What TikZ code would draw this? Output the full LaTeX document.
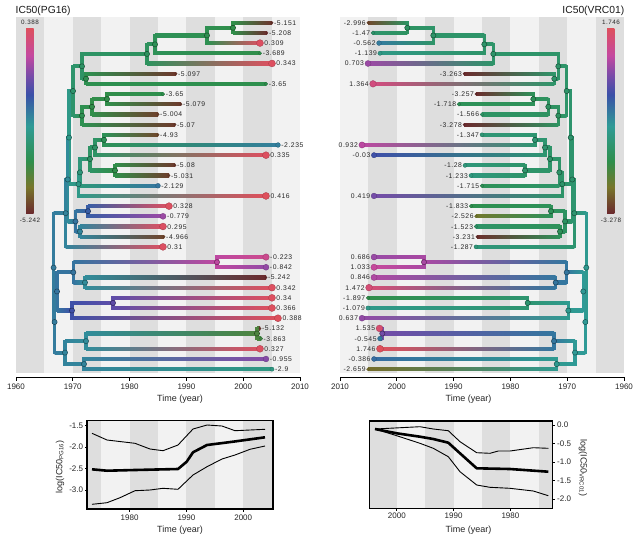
\documentclass[tikz,border=0pt]{standalone}
\usepackage{fontspec}
\setmainfont{Liberation Sans}
\newfontfamily\labfont[LetterSpace=8]{Liberation Sans}
\usetikzlibrary{calc}
\definecolor{cbBr}{HTML}{6B2A2D}
\definecolor{cbO}{HTML}{77762B}
\definecolor{cbG}{HTML}{2E8F4C}
\definecolor{cbT}{HTML}{2F9B96}
\definecolor{cbB}{HTML}{3A50A8}
\definecolor{cbP}{HTML}{7D4BA8}
\definecolor{cbM}{HTML}{C448A0}
\definecolor{cbR}{HTML}{DE505C}
\definecolor{bandD}{HTML}{DEDEDE}
\definecolor{bandL}{HTML}{F2F2F2}
\pgfdeclareverticalshading{cbar}{100bp}{color(0bp)=(cbBr); color(25bp)=(cbBr); color(32bp)=(cbO); color(39bp)=(cbG); color(48.5bp)=(cbT); color(57bp)=(cbB); color(62.5bp)=(cbP); color(67.5bp)=(cbM); color(75bp)=(cbR); color(100bp)=(cbR)}
\pgfdeclarelayer{bg}
\pgfdeclarelayer{branches}
\pgfsetlayers{bg,branches,main}
% colour of a value, f in [0,1]
\newcommand\setcol[2]{%
  \pgfmathsetmacro\cf{max(0,min(1,#2))}%
  \ifdim\cf pt<0.14pt
    \pgfmathsetmacro\cp{100*\cf/0.14}\colorlet{#1}{cbO!\cp!cbBr}%
  \else\ifdim\cf pt<0.28pt
    \pgfmathsetmacro\cp{100*(\cf-0.14)/0.14}\colorlet{#1}{cbG!\cp!cbO}%
  \else\ifdim\cf pt<0.47pt
    \pgfmathsetmacro\cp{100*(\cf-0.28)/0.19}\colorlet{#1}{cbT!\cp!cbG}%
  \else\ifdim\cf pt<0.64pt
    \pgfmathsetmacro\cp{100*(\cf-0.47)/0.17}\colorlet{#1}{cbB!\cp!cbT}%
  \else\ifdim\cf pt<0.75pt
    \pgfmathsetmacro\cp{100*(\cf-0.64)/0.11}\colorlet{#1}{cbP!\cp!cbB}%
  \else\ifdim\cf pt<0.85pt
    \pgfmathsetmacro\cp{100*(\cf-0.75)/0.10}\colorlet{#1}{cbM!\cp!cbP}%
  \else
    \pgfmathsetmacro\cp{100*(\cf-0.85)/0.15}\colorlet{#1}{cbR!\cp!cbM}%
  \fi\fi\fi\fi\fi\fi}
% branches
\newcommand\brL[2]{%
  \shade[left color=#1, right color=#2] ($(#1|-#2)+(0,-1.6)$) rectangle ($(#2)+(0,1.6)$);%
  \draw[#1, line width=3.2pt, line cap=rect] (#1) -- (#1|-#2);}
\newcommand\brR[2]{%
  \shade[left color=#2, right color=#1] ($(#2)+(0,-1.6)$) rectangle ($(#1|-#2)+(0,1.6)$);%
  \draw[#1, line width=3.2pt, line cap=rect] (#1) -- (#1|-#2);}
% tips: name, row, x, value
\newcommand\tipL[4]{%
  \pgfmathsetmacro\ty{22.7+(#2-1)*10.19}%
  \expandafter\xdef\csname ny@#1\endcsname{\ty}%
  \coordinate (#1) at (#3,\ty);%
  \pgfmathsetmacro\ff{(#4+5.242)/5.63}\setcol{#1}{\ff}%
  \pgfmathsetmacro\rr{1.1+2.4*\ff}%
  \fill[#1, draw=#1!75!black, line width=0.3pt] (#1) circle[radius=\rr pt];%
  \node[lab, anchor=base west] (#1-l) at ($(#1)+(\rr+0.8,2.5)$) {#4};}
\newcommand\tipR[4]{%
  \pgfmathsetmacro\ty{22.7+(#2-1)*10.19}%
  \expandafter\xdef\csname ny@#1\endcsname{\ty}%
  \coordinate (#1) at (#3,\ty);%
  \pgfmathsetmacro\ff{(#4+3.278)/5.024}\setcol{#1}{\ff}%
  \pgfmathsetmacro\rr{1.1+2.4*\ff}%
  \fill[#1, draw=#1!75!black, line width=0.3pt] (#1) circle[radius=\rr pt];%
  \node[lab, anchor=base east] (#1-l) at ($(#1)+(-\rr-0.8,2.5)$) {#4};}
% internal nodes: name, x, child A, child B, value
\newcommand\inL[5]{%
  \pgfmathsetmacro\ty{(\csname ny@#3\endcsname+\csname ny@#4\endcsname)/2}%
  \expandafter\xdef\csname ny@#1\endcsname{\ty}%
  \coordinate (#1) at (#2,\ty);%
  \pgfmathsetmacro\ff{(#5+5.242)/5.63}\setcol{#1}{\ff}%
  \begin{pgfonlayer}{branches}\brL{#1}{#3}\brL{#1}{#4}\end{pgfonlayer}%
  \fill[#1, draw=#1!55!black, line width=0.5pt] (#1) circle[radius=2.6pt];}
\newcommand\inR[5]{%
  \pgfmathsetmacro\ty{(\csname ny@#3\endcsname+\csname ny@#4\endcsname)/2}%
  \expandafter\xdef\csname ny@#1\endcsname{\ty}%
  \coordinate (#1) at (#2,\ty);%
  \pgfmathsetmacro\ff{(#5+3.278)/5.024}\setcol{#1}{\ff}%
  \begin{pgfonlayer}{branches}\brR{#1}{#3}\brR{#1}{#4}\end{pgfonlayer}%
  \fill[#1, draw=#1!55!black, line width=0.5pt] (#1) circle[radius=2.6pt];}
\begin{document}
\begin{tikzpicture}[x=1pt,y=-1pt,
  lab/.style={font=\labfont\fontsize{6.8}{8}\selectfont, inner sep=0pt, text=black!85},
  ticklab/.style={font=\fontsize{8}{9}\selectfont, inner sep=0pt, text=black!85},
  axlab/.style={font=\fontsize{9}{10}\selectfont, inner sep=0pt, text=black!85},
  ttl/.style={font=\fontsize{10.3}{12}\selectfont, inner sep=0pt, text=black!90},
  curvethin/.style={line width=0.9pt, line join=round},
  curvethick/.style={line width=2.6pt, line join=round},
  frame/.style={line width=1.3pt}]
\useasboundingbox (0,0) rectangle (642,541);
% ---------- backgrounds
\begin{pgfonlayer}{bg}
\fill[white] (0,0) rectangle (642,541);
\foreach \k in {0,...,4} {
  \fill[bandD] ({16+\k*56.8},17.3) rectangle ({44.4+\k*56.8},373.3);
  \fill[bandL] ({44.4+\k*56.8},17.3) rectangle ({72.8+\k*56.8},373.3);
  \fill[bandL] ({340+\k*56.8},17.3) rectangle ({368.4+\k*56.8},373.3);
  \fill[bandD] ({368.4+\k*56.8},17.3) rectangle ({396.8+\k*56.8},373.3);
}
\begin{scope}
  \clip (87,420.7) rectangle (273,509);
  \fill[bandL] (87,420.7) rectangle (273,509);
  \foreach \k in {0,...,3} \fill[bandD] ({72.8+\k*56.8},420.7) rectangle ({101.2+\k*56.8},509);
\end{scope}
\begin{scope}
  \clip (369.3,421) rectangle (552.3,508.3);
  \fill[bandL] (369.3,421) rectangle (552.3,508.3);
  \foreach \k in {0,...,3} \fill[bandD] ({368.4+\k*56.8},421) rectangle ({396.8+\k*56.8},508.3);
\end{scope}
\end{pgfonlayer}
% ---------- titles and colour bars
\node[ttl, anchor=west] (titleL) at (15.5,10.7) {IC50(PG16)};
\node[ttl, anchor=east] (titleR) at (624.5,10.7) {IC50(VRC01)};
\shade[shading=cbar] (26.2,28) rectangle (33.6,213);
\shade[shading=cbar] (607,28) rectangle (614.4,213);
\node[lab, font=\labfont\fontsize{6.3}{7}\selectfont] (cbLtop) at (30,22.3) {0.388};
\node[lab, font=\labfont\fontsize{6.3}{7}\selectfont] (cbLbot) at (30,220.5) {-5.242};
\node[lab, font=\labfont\fontsize{6.3}{7}\selectfont] (cbRtop) at (611,22.3) {1.746};
\node[lab, font=\labfont\fontsize{6.3}{7}\selectfont] (cbRbot) at (611,220.5) {-3.278};
% ---------- left tree
\tipL{Lt1}{1}{272}{-5.151}
\tipL{Lt2}{2}{267}{-5.208}
\tipL{Lt3}{3}{260}{0.309}
\tipL{Lt4}{4}{260}{-3.689}
\tipL{Lt5}{5}{272}{0.343}
\tipL{Lt6}{6}{176}{-5.097}
\tipL{Lt7}{7}{266}{-3.65}
\tipL{Lt8}{8}{163}{-3.65}
\tipL{Lt9}{9}{181}{-5.079}
\tipL{Lt10}{10}{158}{-5.004}
\tipL{Lt11}{11}{175}{-5.07}
\tipL{Lt12}{12}{158}{-4.93}
\tipL{Lt13}{13}{278}{-2.235}
\tipL{Lt14}{14}{266}{0.335}
\tipL{Lt15}{15}{175}{-5.08}
\tipL{Lt16}{16}{169}{-5.031}
\tipL{Lt17}{17}{158}{-2.129}
\tipL{Lt18}{18}{266}{0.416}
\tipL{Lt19}{19}{169}{0.328}
\tipL{Lt20}{20}{163}{-0.779}
\tipL{Lt21}{21}{163}{0.295}
\tipL{Lt22}{22}{164}{-4.966}
\tipL{Lt23}{23}{163}{0.31}
\tipL{Lt24}{24}{266}{-0.223}
\tipL{Lt25}{25}{266}{-0.842}
\tipL{Lt26}{26}{266}{-5.242}
\tipL{Lt27}{27}{272}{0.342}
\tipL{Lt28}{28}{272}{0.34}
\tipL{Lt29}{29}{272}{0.366}
\tipL{Lt30}{30}{278}{0.388}
\tipL{Lt31}{31}{260}{-5.132}
\tipL{Lt32}{32}{261}{-3.863}
\tipL{Lt33}{33}{260}{0.327}
\tipL{Lt34}{34}{266}{-0.955}
\tipL{Lt35}{35}{272}{-2.9}
\inL{L12}{233}{Lt1}{Lt2}{-3.7}
\inL{L13}{207}{L12}{Lt3}{-3.6}
\inL{L14}{155}{L13}{Lt4}{-3.5}
\inL{L15}{147}{L14}{Lt5}{-3.4}
\inL{L67}{86}{Lt6}{Lt7}{-3.6}
\inL{L17}{82}{L15}{L67}{-3.3}
\inL{L89}{107}{Lt8}{Lt9}{-3.7}
\inL{L810}{92}{L89}{Lt10}{-3.7}
\inL{L811}{82}{L810}{Lt11}{-3.6}
\inL{L111}{73}{L17}{L811}{-3.2}
\inL{L1213}{104}{Lt12}{Lt13}{-3.5}
\inL{L1214}{95}{L1213}{Lt14}{-3.3}
\inL{L1516}{115}{Lt15}{Lt16}{-3.7}
\inL{L1216}{90}{L1214}{L1516}{-3.3}
\inL{L1217}{80}{L1216}{Lt17}{-3.0}
\inL{L1218}{78.5}{L1217}{Lt18}{-2.8}
\inL{L118}{69}{L111}{L1218}{-2.8}
\inL{L1920}{88}{Lt19}{Lt20}{-1.8}
\inL{L2122}{80}{Lt21}{Lt22}{-2.3}
\inL{L1922}{75.5}{L1920}{L2122}{-2.1}
\inL{LB}{67.7}{L118}{L1922}{-2.4}
\inL{LA}{65.7}{LB}{Lt23}{-2.3}
\inL{L2425}{217}{Lt24}{Lt25}{-0.5}
\inL{L2627}{85}{Lt26}{Lt27}{-2.4}
\inL{L2427}{73.3}{L2425}{L2627}{-2.1}
\inL{L2829}{113}{Lt28}{Lt29}{-1.3}
\inL{L2830}{72}{L2829}{Lt30}{-1.6}
\inL{L2430}{57}{L2427}{L2830}{-2.1}
\inL{L3132}{257}{Lt31}{Lt32}{-4.0}
\inL{L3133}{86}{L3132}{Lt33}{-2.4}
\inL{L3435}{84}{Lt34}{Lt35}{-2.3}
\inL{L3135}{65}{L3133}{L3435}{-2.3}
\inL{L2435}{54.6}{L2430}{L3135}{-2.2}
\inL{Lroot}{53.6}{LA}{L2435}{-2.2}
% ---------- right tree
\tipR{Rt1}{1}{368}{-2.996}
\tipR{Rt2}{2}{373}{-1.47}
\tipR{Rt3}{3}{379}{-0.562}
\tipR{Rt4}{4}{380}{-1.139}
\tipR{Rt5}{5}{368}{0.703}
\tipR{Rt6}{6}{464}{-3.263}
\tipR{Rt7}{7}{373}{1.364}
\tipR{Rt8}{8}{476}{-3.257}
\tipR{Rt9}{9}{459}{-1.718}
\tipR{Rt10}{10}{482}{-1.566}
\tipR{Rt11}{11}{464}{-3.278}
\tipR{Rt12}{12}{482}{-1.347}
\tipR{Rt13}{13}{362}{0.932}
\tipR{Rt14}{14}{374}{-0.03}
\tipR{Rt15}{15}{465}{-1.28}
\tipR{Rt16}{16}{471}{-1.233}
\tipR{Rt17}{17}{482}{-1.715}
\tipR{Rt18}{18}{374}{0.419}
\tipR{Rt19}{19}{471}{-1.833}
\tipR{Rt20}{20}{476}{-2.526}
\tipR{Rt21}{21}{476}{-1.523}
\tipR{Rt22}{22}{477}{-3.231}
\tipR{Rt23}{23}{476}{-1.287}
\tipR{Rt24}{24}{374}{0.686}
\tipR{Rt25}{25}{374}{1.033}
\tipR{Rt26}{26}{374}{0.846}
\tipR{Rt27}{27}{369}{1.472}
\tipR{Rt28}{28}{368}{-1.897}
\tipR{Rt29}{29}{368}{-1.079}
\tipR{Rt30}{30}{362}{0.637}
\tipR{Rt31}{31}{379.5}{1.535}
\tipR{Rt32}{32}{380}{-0.545}
\tipR{Rt33}{33}{380}{1.746}
\tipR{Rt34}{34}{374}{-0.386}
\tipR{Rt35}{35}{368}{-2.659}
\inR{R12}{407.3}{Rt1}{Rt2}{-1.6}
\inR{R13}{433.3}{R12}{Rt3}{-1.5}
\inR{R14}{484.3}{R13}{Rt4}{-1.5}
\inR{R15}{493.3}{R14}{Rt5}{-1.5}
\inR{R67}{554.3}{Rt6}{Rt7}{-1.5}
\inR{R17}{558.3}{R15}{R67}{-1.5}
\inR{R89}{533.3}{Rt8}{Rt9}{-1.7}
\inR{R810}{548.3}{R89}{Rt10}{-1.6}
\inR{R811}{558.3}{R810}{Rt11}{-1.6}
\inR{R111}{566.7}{R17}{R811}{-1.5}
\inR{R1213}{535}{Rt12}{Rt13}{-1.4}
\inR{R1214}{545}{R1213}{Rt14}{-1.4}
\inR{R1516}{525}{Rt15}{Rt16}{-1.5}
\inR{R1216}{550}{R1214}{R1516}{-1.5}
\inR{R1217}{559.3}{R1216}{Rt17}{-1.5}
\inR{R1218}{562.3}{R1217}{Rt18}{-1.5}
\inR{R118}{570.7}{R111}{R1218}{-1.45}
\inR{R1920}{551}{Rt19}{Rt20}{-1.7}
\inR{R2122}{560}{Rt21}{Rt22}{-1.7}
\inR{R1922}{565}{R1920}{R2122}{-1.6}
\inR{RB}{572.3}{R118}{R1922}{-1.45}
\inR{RA}{574.3}{RB}{Rt23}{-1.4}
\inR{R2425}{424}{Rt24}{Rt25}{0.8}
\inR{R2627}{555.7}{Rt26}{Rt27}{-0.5}
\inR{R2427}{566.7}{R2425}{R2627}{-0.5}
\inR{R2829}{527.7}{Rt28}{Rt29}{-1.4}
\inR{R2830}{568.3}{R2829}{Rt30}{-1.0}
\inR{R2430}{583.3}{R2427}{R2830}{-0.9}
\inR{R3132}{382.3}{Rt31}{Rt32}{0.4}
\inR{R3133}{554}{R3132}{Rt33}{-0.5}
\inR{R3435}{556.7}{Rt34}{Rt35}{-1.0}
\inR{R3135}{575}{R3133}{R3435}{-0.9}
\inR{R2435}{585.3}{R2430}{R3135}{-0.9}
\inR{Rroot}{586.3}{RA}{R2435}{-1.0}
% ---------- main axes
\draw[line width=0.9pt] (16,377.3) -- (300,377.3);
\draw[line width=0.9pt] (340,377.3) -- (624,377.3);
\foreach \k/\yr in {0/1960,1/1970,2/1980,3/1990,4/2000,5/2010} {
  \draw[line width=0.8pt] ({16+\k*56.8},377.3) -- ++(0,3.5);
  \node[ticklab] (tkL\k) at ({16+\k*56.8},386.3) {\yr};
  \draw[line width=0.8pt] ({624-\k*56.8},377.3) -- ++(0,3.5);
  \node[ticklab] (tkR\k) at ({624-\k*56.8},386.3) {\yr};
}
\node[axlab] (timeL) at (180,399.5) {Time (year)};
\node[axlab] (timeR) at (468.5,399.5) {Time (year)};
% ---------- bottom left panel
\draw[curvethin] (92,433.3) -- (107,440) -- (135,443.3) -- (150,449) -- (163,450.7) -- (178,445) -- (193,429) -- (207,425) -- (222,426) -- (235,430.7) -- (265,429.3);
\draw[curvethick] (92,469.3) -- (107,470.7) -- (135,470) -- (178,469) -- (186.7,461.7) -- (193,452.3) -- (207,445) -- (233,441.7) -- (265,437.3);
\draw[curvethin] (92,504.3) -- (107,502.7) -- (120,497.7) -- (135,490.7) -- (150,490) -- (163,488.3) -- (178,489.3) -- (193,475) -- (207,466.7) -- (222,459) -- (235,455) -- (250,449.3) -- (265,446);
\draw[frame] (87,420.7) rectangle (273,509);
\foreach \v/\yy in {-1.5/425.7,-2.0/447.1,-2.5/468.6,-3.0/490} {
  \draw[line width=0.8pt] (87,\yy) -- ++(-2.5,0);
  \node[ticklab, anchor=east] (ylL\yy) at (83.3,\yy) {\v};
}
\foreach \yr/\xx in {1980/129.6,1990/186.4,2000/243.2} {
  \draw[line width=0.8pt] (\xx,509) -- ++(0,3);
  \node[ticklab] (xlL\yr) at (\xx,517.3) {\yr};
}
\node[axlab, rotate=90] (ylabL) at (60,467) {log(IC50\textsubscript{PG16})};
\node[axlab] (timeBL) at (180,530) {Time (year)};
% ---------- bottom right panel
\draw[curvethin] (375,429) -- (420,426.7) -- (433.3,429) -- (448.3,430.7) -- (460,441.7) -- (476.7,452.7) -- (490,453.3) -- (498.3,451) -- (510,451) -- (533.3,447.7) -- (548.3,448.3);
\draw[curvethick] (375,429) -- (396.7,433.3) -- (420,436.7) -- (433.3,439) -- (448.3,442.7) -- (460,453.3) -- (476.7,468.3) -- (510,469) -- (548.3,471.7);
\draw[curvethin] (375,429) -- (396.7,435.7) -- (420,443.3) -- (433.3,448.3) -- (448.3,456.7) -- (460,471.7) -- (476.7,485) -- (490,487.3) -- (510,488.3) -- (533.3,491) -- (548.3,495.7);
\draw[frame] (369.3,421) rectangle (552.3,508.3);
\foreach \v/\yy in {0.0/425,-0.5/443.5,-1.0/462,-1.5/480.5,-2.0/499} {
  \draw[line width=0.8pt] (552.3,\yy) -- ++(2.5,0);
  \node[ticklab, anchor=west] (ylR\yy) at (557,\yy) {\v};
}
\foreach \yr/\xx in {2000/396.8,1990/453.6,1980/510.4} {
  \draw[line width=0.8pt] (\xx,508.3) -- ++(0,3);
  \node[ticklab] (xlR\yr) at (\xx,515.5) {\yr};
}
\node[axlab, rotate=-90] (ylabR) at (583,468) {log(IC50\textsubscript{VRC01})};
\node[axlab] (timeBR) at (468.5,530) {Time (year)};
\end{tikzpicture}
\end{document}
